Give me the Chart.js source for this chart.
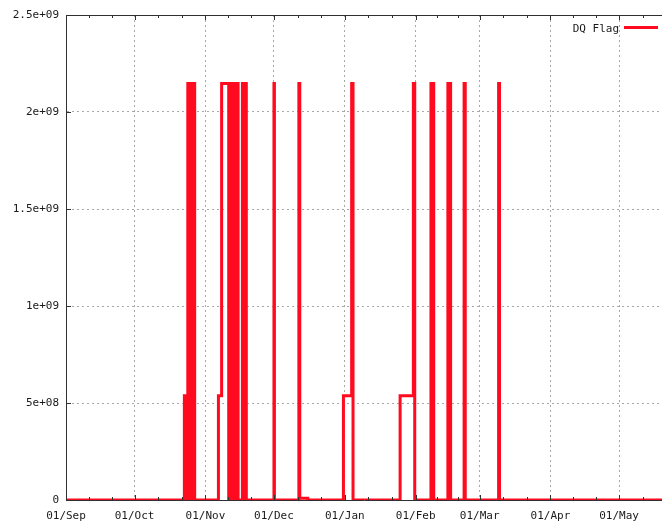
<!DOCTYPE html>
<html>
<head>
<meta charset="utf-8">
<script src="https://cdn.jsdelivr.net/npm/chart.js@4.4.0/dist/chart.umd.min.js"></script>
<style>
  html, body { margin: 0; padding: 0; background: #fff; }
  #wrap { width: 662px; height: 521px; }
</style>
</head>
<body>
<div id="wrap"><canvas id="dq"></canvas></div>
<script>
// ── Data: day offset from 01/Sep, flag value held from that day until the next entry ──
const days = [
  0,
  51.8, 52.2, 52.5, 52.9,
  53.3, 53.7, 54.0, 54.4, 54.7, 55.1, 55.4, 55.8, 56.0, 56.3,
  66.7, 68.1, 71.2, 71.9, 72.4, 73.6, 73.9, 75.0, 75.3, 77.2, 77.6, 78.4, 78.9,
  91.0, 91.2,
  101.9, 102.3, 105.8,
  121.4, 125.0, 125.6,
  146.2, 152.0, 152.6,
  159.7, 160.1, 160.5, 160.9,
  167.1, 167.5, 167.9, 168.3,
  174.2, 174.7,
  189.3, 189.7,
  262
];
const flags = [
  0,
  536870912, 0, 536870912, 0,
  2147483648, 0, 2147483648, 0, 2147483648, 0, 2147483648, 0, 2147483648, 0,
  536870912, 2147483648, 0, 2147483648, 0, 2147483648, 0, 2147483648, 0, 2147483648, 0, 2147483648, 0,
  2147483648, 0,
  2147483648, 8388608, 0,
  536870912, 2147483648, 0,
  536870912, 2147483648, 0,
  2147483648, 0, 2147483648, 0,
  2147483648, 0, 2147483648, 0,
  2147483648, 0,
  2147483648, 0,
  0
];

const xTickDays   = [0, 30, 61, 91, 122, 153, 181, 212, 242];
const xTickLabels = ['01/Sep', '01/Oct', '01/Nov', '01/Dec', '01/Jan', '01/Feb', '01/Mar', '01/Apr', '01/May'];
const yTickValues = [0, 5e8, 1e9, 1.5e9, 2e9, 2.5e9];
const yTickLabels = ['0', '5e+08', '1e+09', '1.5e+09', '2e+09', '2.5e+09'];
const seriesLabel = 'DQ Flag';

const RED  = '#ff0a1e';
const INK  = '#1a1a1a';
const AXIS = '#303030';
const GRID = '#a8a8a8';
const FONT = { family: "'DejaVu Sans Mono', monospace", size: 11 };

// ── gnuplot-style frame: top border, inward tics, legend with line sample ──
const frame = {
  id: 'frame',
  afterDatasetsDraw(chart) {
    const { ctx, chartArea: a, scales: { x, y } } = chart;
    ctx.save();
    ctx.strokeStyle = AXIS;
    ctx.lineWidth = 1;
    ctx.beginPath();
    ctx.moveTo(a.left, a.top + 0.5);
    ctx.lineTo(a.right, a.top + 0.5);

    const tic = (v, len) => {
      const px = Math.round(x.getPixelForValue(v)) + 0.5;
      if (px < a.left || px > a.right) return;
      ctx.moveTo(px, a.bottom); ctx.lineTo(px, a.bottom - len);
      ctx.moveTo(px, a.top);    ctx.lineTo(px, a.top + len);
    };
    xTickDays.forEach((d, i) => {
      const next = i < xTickDays.length - 1 ? xTickDays[i + 1] : d + 31;
      tic(d, 5);
      tic(d + (next - d) / 3, 3);
      tic(d + 2 * (next - d) / 3, 3);
    });
    yTickValues.forEach(v => {
      const py = Math.round(y.getPixelForValue(v)) + 0.5;
      ctx.moveTo(a.left, py); ctx.lineTo(a.left + 5, py);
    });
    ctx.stroke();
    ctx.restore();
  },
  afterDraw(chart) {
    const { ctx, chartArea: a } = chart;
    ctx.save();
    ctx.font = `${FONT.size}px ${FONT.family}`;
    ctx.fillStyle = INK;
    ctx.textAlign = 'right';
    ctx.textBaseline = 'middle';
    ctx.fillText(seriesLabel, 619, a.top + 14);
    ctx.strokeStyle = RED;
    ctx.lineWidth = 3;
    ctx.beginPath();
    ctx.moveTo(624, a.top + 12.5);
    ctx.lineTo(658, a.top + 12.5);
    ctx.stroke();
    ctx.restore();
  }
};

new Chart(document.getElementById('dq'), {
  type: 'line',
  data: {
    datasets: [{
      label: seriesLabel,
      data: days.map((d, i) => ({ x: d, y: flags[i] })),
      borderColor: RED,
      borderWidth: 3,
      stepped: true,
      pointRadius: 0,
      fill: false,
      tension: 0,
      borderJoinStyle: 'miter',
      borderCapStyle: 'butt',
    }]
  },
  options: {
    responsive: true,
    maintainAspectRatio: false,
    animation: false,
    layout: { padding: { top: 15, right: 0, left: 0, bottom: 0 } },
    plugins: {
      legend: { display: false },
      tooltip: { enabled: false },
    },
    scales: {
      x: {
        type: 'linear',
        min: 0,
        max: 260.8,
        afterBuildTicks: s => { s.ticks = xTickDays.map(v => ({ value: v })); },
        afterFit: s => { s.height = 21; },
        ticks: {
          autoSkip: false,
          maxRotation: 0,
          padding: 10,
          color: INK,
          font: FONT,
          callback: (v, i) => xTickLabels[i],
        },
        grid: { color: GRID, drawTicks: false, lineWidth: 1 },
        border: { color: AXIS, dash: [2, 3], display: true },
      },
      y: {
        min: 0,
        max: 2.5e9,
        afterBuildTicks: s => { s.ticks = yTickValues.map(v => ({ value: v })); },
        afterFit: s => { s.width = 66; },
        ticks: {
          padding: 7,
          color: INK,
          font: FONT,
          callback: (v, i) => yTickLabels[i],
        },
        grid: { color: GRID, drawTicks: false, lineWidth: 1 },
        border: { color: AXIS, dash: [2, 3], display: true },
      }
    }
  },
  plugins: [frame]
});
</script>
</body>
</html>
